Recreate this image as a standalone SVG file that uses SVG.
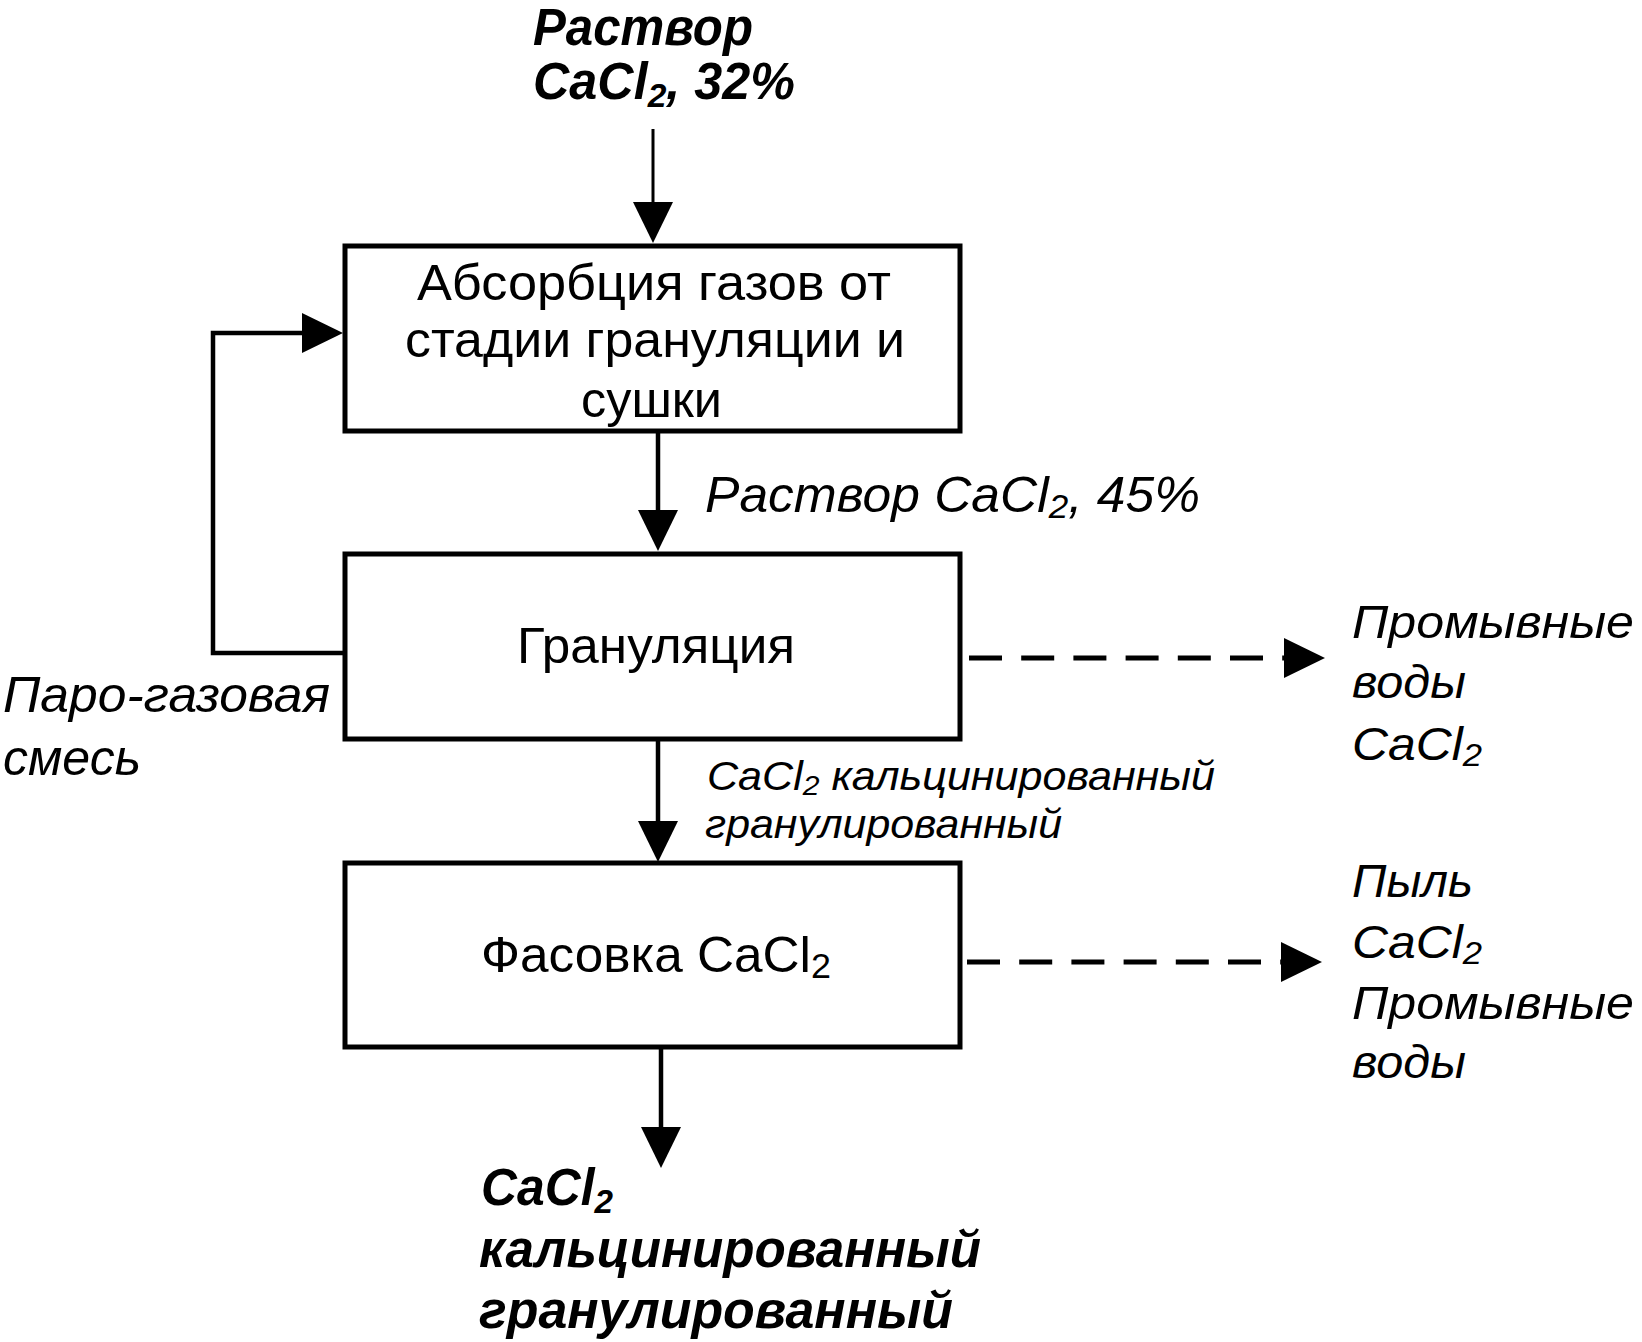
<svg xmlns="http://www.w3.org/2000/svg" xmlns:xlink="http://www.w3.org/1999/xlink" width="1642" height="1342" viewBox="0 0 1642 1342">
<style>
text{font-family:"Liberation Sans",Arial,sans-serif;fill:#000}
.bx{font-size:50px}
.it{font-style:italic}
.bi{font-style:italic;font-weight:bold;font-size:51px}
.lbl{font-style:italic;font-size:50px}
.rt{font-style:italic;font-size:46px}
.sm{font-style:italic;font-size:40px}
.box{fill:#fff;stroke:#000;stroke-width:5}
.con{fill:none;stroke:#000;stroke-width:4.5;marker-end:url(#ah)}
.thin{stroke-width:3}
.dash{fill:none;stroke:#000;stroke-width:5;stroke-dasharray:33 19.2;marker-end:url(#ah)}
</style>
<defs>
<marker id="ah" markerUnits="userSpaceOnUse" markerWidth="42" markerHeight="42" refX="31" refY="20" orient="auto" overflow="visible">
<path d="M0,0 L41,20 L0,40 Z" fill="#000"/>
</marker>
</defs>
<rect width="1642" height="1342" fill="#fff"/>

<g id="connectors">
<path class="con thin" d="M653,129 V233"/>
<path class="con" d="M658,431 V541"/>
<path class="con" d="M658,739 V852"/>
<path class="con" d="M661,1047 V1158"/>
<path class="con" d="M345,653 H213 V333 H333"/>
<path class="dash" d="M969,658 H1315"/>
<path class="dash" d="M967,962 H1312"/>
</g>

<g id="input">
<text class="bi" x="533" y="45" font-size="49" textLength="220" lengthAdjust="spacingAndGlyphs">Раствор</text>
<text class="bi" x="533" y="99" textLength="262" lengthAdjust="spacingAndGlyphs">CaCl<tspan font-size="34" dy="8">2</tspan><tspan dy="-8">, 32%</tspan></text>
</g>

<g id="absorption">
<rect class="box" x="345" y="246" width="615" height="185"/>
<text class="bx" x="417" y="300" textLength="474" lengthAdjust="spacingAndGlyphs">Абсорбция газов от</text>
<text class="bx" x="405" y="357" textLength="500" lengthAdjust="spacingAndGlyphs">стадии грануляции и</text>
<text class="bx" x="581" y="417" textLength="141" lengthAdjust="spacingAndGlyphs">сушки</text>
</g>

<g id="label-45">
<text class="lbl" x="705" y="512" textLength="495" lengthAdjust="spacingAndGlyphs">Раствор CaCl<tspan font-size="34" dy="6">2</tspan><tspan dy="-6">, 45%</tspan></text>
</g>

<g id="granulation">
<rect class="box" x="345" y="554" width="615" height="185"/>
<text class="bx" x="517" y="663" textLength="278" lengthAdjust="spacingAndGlyphs">Грануляция</text>
</g>

<g id="steam-gas">
<text class="lbl" x="3" y="712" textLength="327" lengthAdjust="spacingAndGlyphs">Паро-газовая</text>
<text class="lbl" x="3" y="775" textLength="138" lengthAdjust="spacingAndGlyphs">смесь</text>
</g>

<g id="wash-water-1">
<text class="rt" x="1352" y="638" textLength="282" lengthAdjust="spacingAndGlyphs">Промывные</text>
<text class="rt" x="1352" y="698" textLength="114" lengthAdjust="spacingAndGlyphs">воды</text>
<text class="rt" x="1352" y="760" textLength="130" lengthAdjust="spacingAndGlyphs">CaCl<tspan font-size="32" dy="6">2</tspan></text>
</g>

<g id="label-granulated">
<text class="sm" x="707" y="790" textLength="508" lengthAdjust="spacingAndGlyphs">CaCl<tspan font-size="28" dy="5">2</tspan><tspan dy="-5"> кальцинированный</tspan></text>
<text class="sm" x="705" y="838" textLength="357" lengthAdjust="spacingAndGlyphs">гранулированный</text>
</g>

<g id="packing">
<rect class="box" x="345" y="863" width="615" height="184"/>
<text class="bx" x="481" y="972" textLength="350" lengthAdjust="spacingAndGlyphs">Фасовка CaCl<tspan font-size="35" dy="6">2</tspan></text>
</g>

<g id="dust">
<text class="rt" x="1352" y="897" textLength="121" lengthAdjust="spacingAndGlyphs">Пыль</text>
<text class="rt" x="1352" y="958" textLength="130" lengthAdjust="spacingAndGlyphs">CaCl<tspan font-size="32" dy="6">2</tspan></text>
<text class="rt" x="1352" y="1019" textLength="282" lengthAdjust="spacingAndGlyphs">Промывные</text>
<text class="rt" x="1352" y="1078" textLength="114" lengthAdjust="spacingAndGlyphs">воды</text>
</g>

<g id="product">
<text class="bi" x="481" y="1205" textLength="132" lengthAdjust="spacingAndGlyphs">CaCl<tspan font-size="34" dy="8">2</tspan></text>
<text class="bi" x="479" y="1267" textLength="502" lengthAdjust="spacingAndGlyphs">кальцинированный</text>
<text class="bi" x="479" y="1328" textLength="474" lengthAdjust="spacingAndGlyphs">гранулированный</text>
</g>
</svg>
